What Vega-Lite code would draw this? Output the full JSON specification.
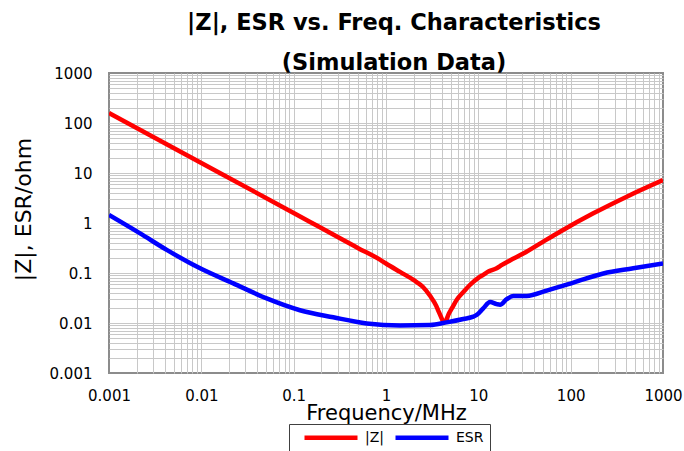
{
  "$schema": "https://vega.github.io/schema/vega-lite/v6.json",
  "width": 554,
  "height": 300,
  "autosize": {"type": "none"},
  "padding": {"left": 109, "top": 73, "right": 21, "bottom": 78},
  "background": "white",
  "title": {
    "text": ["|Z|, ESR vs. Freq. Characteristics", "(Simulation Data)"],
    "font": "DejaVu Sans",
    "fontSize": 22.5,
    "fontWeight": "bold",
    "lineHeight": 40,
    "color": "#000000",
    "anchor": "middle",
    "dx": 8,
    "offset": -8
  },
  "data": {
    "values": [
      {"freq": 0.001, "value": 158, "series": "|Z|"},
      {"freq": 0.01, "value": 15.9, "series": "|Z|"},
      {"freq": 0.1, "value": 1.59, "series": "|Z|"},
      {"freq": 0.5, "value": 0.314, "series": "|Z|"},
      {"freq": 0.86, "value": 0.185, "series": "|Z|"},
      {"freq": 1.0, "value": 0.155, "series": "|Z|"},
      {"freq": 1.42, "value": 0.105, "series": "|Z|"},
      {"freq": 2.0, "value": 0.072, "series": "|Z|"},
      {"freq": 2.5, "value": 0.053, "series": "|Z|"},
      {"freq": 3.0, "value": 0.035, "series": "|Z|"},
      {"freq": 3.5, "value": 0.022, "series": "|Z|"},
      {"freq": 3.69, "value": 0.0175, "series": "|Z|"},
      {"freq": 4.0, "value": 0.0125, "series": "|Z|"},
      {"freq": 4.25, "value": 0.0102, "series": "|Z|"},
      {"freq": 4.5, "value": 0.0115, "series": "|Z|"},
      {"freq": 4.73, "value": 0.0145, "series": "|Z|"},
      {"freq": 5.2, "value": 0.02, "series": "|Z|"},
      {"freq": 5.83, "value": 0.029, "series": "|Z|"},
      {"freq": 7.0, "value": 0.043, "series": "|Z|"},
      {"freq": 8.1, "value": 0.0575, "series": "|Z|"},
      {"freq": 10, "value": 0.08, "series": "|Z|"},
      {"freq": 11.3, "value": 0.092, "series": "|Z|"},
      {"freq": 13, "value": 0.108, "series": "|Z|"},
      {"freq": 15.8, "value": 0.124, "series": "|Z|"},
      {"freq": 18, "value": 0.145, "series": "|Z|"},
      {"freq": 22, "value": 0.178, "series": "|Z|"},
      {"freq": 30.7, "value": 0.245, "series": "|Z|"},
      {"freq": 50, "value": 0.42, "series": "|Z|"},
      {"freq": 76.7, "value": 0.67, "series": "|Z|"},
      {"freq": 176, "value": 1.56, "series": "|Z|"},
      {"freq": 405, "value": 3.36, "series": "|Z|"},
      {"freq": 1000, "value": 7.2, "series": "|Z|"},
      {"freq": 0.001, "value": 1.45, "series": "ESR"},
      {"freq": 0.00217, "value": 0.62, "series": "ESR"},
      {"freq": 0.00422, "value": 0.29, "series": "ESR"},
      {"freq": 0.0097, "value": 0.124, "series": "ESR"},
      {"freq": 0.0222, "value": 0.062, "series": "ESR"},
      {"freq": 0.051, "value": 0.031, "series": "ESR"},
      {"freq": 0.117, "value": 0.018, "series": "ESR"},
      {"freq": 0.269, "value": 0.013, "series": "ESR"},
      {"freq": 0.618, "value": 0.0098, "series": "ESR"},
      {"freq": 1.42, "value": 0.0089, "series": "ESR"},
      {"freq": 3.0, "value": 0.0091, "series": "ESR"},
      {"freq": 4.54, "value": 0.0103, "series": "ESR"},
      {"freq": 6.88, "value": 0.012, "series": "ESR"},
      {"freq": 8.83, "value": 0.0134, "series": "ESR"},
      {"freq": 9.6, "value": 0.0145, "series": "ESR"},
      {"freq": 11.3, "value": 0.0196, "series": "ESR"},
      {"freq": 13.4, "value": 0.0262, "series": "ESR"},
      {"freq": 15.8, "value": 0.0238, "series": "ESR"},
      {"freq": 17.2, "value": 0.0232, "series": "ESR"},
      {"freq": 20.3, "value": 0.03, "series": "ESR"},
      {"freq": 23.9, "value": 0.0345, "series": "ESR"},
      {"freq": 33.4, "value": 0.0347, "series": "ESR"},
      {"freq": 55, "value": 0.0444, "series": "ESR"},
      {"freq": 107, "value": 0.064, "series": "ESR"},
      {"freq": 226, "value": 0.098, "series": "ESR"},
      {"freq": 477, "value": 0.124, "series": "ESR"},
      {"freq": 1000, "value": 0.156, "series": "ESR"}
    ]
  },
  "mark": {"type": "line", "strokeWidth": 4.5, "interpolate": "monotone", "clip": true},
  "encoding": {
    "x": {
      "field": "freq",
      "type": "quantitative",
      "scale": {"type": "log", "domain": [0.001, 1000]},
      "axis": {
        "values": [0.001,0.002,0.003,0.004,0.005,0.006,0.007,0.008,0.009,0.01,0.02,0.03,0.04,0.05,0.06,0.07,0.08,0.09,0.1,0.2,0.3,0.4,0.5,0.6,0.7,0.8,0.9,1,2,3,4,5,6,7,8,9,10,20,30,40,50,60,70,80,90,100,200,300,400,500,600,700,800,900,1000],
        "format": "~g",
        "labelExpr": "indexof([0.001,0.01,0.1,1,10,100,1000], datum.value) >= 0 ? datum.label : ''",
        "grid": true,
        "gridColor": "#c8c8c8",
        "gridWidth": 1,
        "gridOpacity": {"condition": {"test": "datum.value <= 0.001 || datum.value >= 1000", "value": 0}, "value": 1},
        "ticks": false,
        "domain": false,
        "labelOverlap": false,
        "labelFlush": false,
        "labelBound": false,
        "labelFont": "DejaVu Sans",
        "labelFontSize": 15,
        "labelColor": "#000000",
        "labelPadding": 15,
        "title": "Frequency/MHz",
        "titleFont": "DejaVu Sans",
        "titleFontSize": 21,
        "titleFontWeight": "normal",
        "titleColor": "#000000",
        "titlePadding": -1
      }
    },
    "y": {
      "field": "value",
      "type": "quantitative",
      "scale": {"type": "log", "domain": [0.001, 1000]},
      "axis": {
        "values": [0.001,0.002,0.003,0.004,0.005,0.006,0.007,0.008,0.009,0.01,0.02,0.03,0.04,0.05,0.06,0.07,0.08,0.09,0.1,0.2,0.3,0.4,0.5,0.6,0.7,0.8,0.9,1,2,3,4,5,6,7,8,9,10,20,30,40,50,60,70,80,90,100,200,300,400,500,600,700,800,900,1000],
        "format": "~g",
        "labelExpr": "indexof([0.001,0.01,0.1,1,10,100,1000], datum.value) >= 0 ? datum.label : ''",
        "grid": true,
        "gridColor": "#c8c8c8",
        "gridWidth": 1,
        "gridOpacity": {"condition": {"test": "datum.value <= 0.001 || datum.value >= 1000", "value": 0}, "value": 1},
        "ticks": false,
        "domain": false,
        "labelOverlap": false,
        "labelFlush": false,
        "labelBound": false,
        "labelFont": "DejaVu Sans",
        "labelFontSize": 15,
        "labelColor": "#000000",
        "labelPadding": 17,
        "title": "|Z|, ESR/ohm",
        "titleFont": "DejaVu Sans",
        "titleFontSize": 22,
        "titleFontWeight": "normal",
        "titleColor": "#000000",
        "titlePadding": 14,
        "titleY": 136
      }
    },
    "color": {
      "field": "series",
      "type": "nominal",
      "sort": ["|Z|", "ESR"],
      "scale": {"domain": ["|Z|", "ESR"], "range": ["#ff0000", "#0000ff"]},
      "legend": {
        "orient": "none",
        "legendX": 180,
        "legendY": 351,
        "direction": "horizontal",
        "title": null,
        "symbolType": "M0.4,0H11",
        "symbolSize": 100,
        "symbolStrokeWidth": 4.5,
        "labelFont": "DejaVu Sans",
        "labelFontSize": 14,
        "labelColor": "#000000",
        "labelOffset": 55,
        "columnPadding": 1,
        "padding": 6,
        "strokeColor": "#404040",
        "fillColor": "white"
      }
    }
  },
  "config": {
    "view": {"stroke": "#8c8c8c", "strokeWidth": 2}
  }
}
